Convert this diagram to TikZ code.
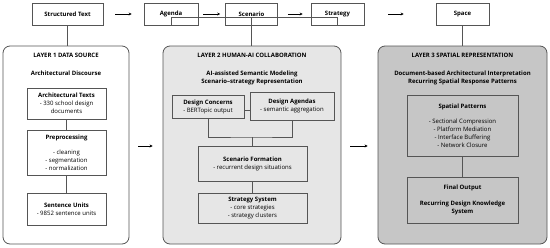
\documentclass[tikz,border=0pt]{standalone}
\usepackage{fontspec}
\setmainfont{Open Sans}
\usetikzlibrary{arrows.meta}
\definecolor{linec}{HTML}{555555}
\definecolor{fillb}{HTML}{E6E6E6}
\definecolor{fillc}{HTML}{C6C6C6}
\newcommand\fsz{\fontsize{6}{8}\selectfont}
\tikzset{
  box/.style={draw=linec, line width=0.6pt, inner sep=0pt, align=center, font=\fsz, text=black},
  layerbox/.style={draw=linec, line width=0.8pt, rounded corners=7pt},
  link/.style={draw=linec, line width=0.6pt},
  flow/.style={draw=black, line width=0.5pt, -{Stealth[length=3pt,width=3pt]}},
  ttl/.style={font=\fsz\bfseries, align=center, inner sep=0pt},
}
\begin{document}
\begin{tikzpicture}[x=1pt,y=-1pt]
\useasboundingbox (0,0) rectangle (550,247);
% layers
\node[layerbox, fill=white, minimum width=126pt, minimum height=198pt] (L1) at (66,145) {};
\node[layerbox, fill=fillb, minimum width=178pt, minimum height=198pt] (L2) at (252,145) {};
\node[layerbox, fill=fillc, minimum width=169pt, minimum height=198pt] (L3) at (462.5,145) {};
% top row
\node[box, minimum width=71pt, minimum height=22pt, font=\fsz\bfseries] (st) at (67.5,14) {Structured Text};
\node[box, minimum width=54pt, minimum height=22pt, font=\fsz\bfseries] (ag) at (171,14) {Agenda};
\node[box, minimum width=52pt, minimum height=22pt, font=\fsz\bfseries] (sc) at (251.5,14) {Scenario};
\node[box, minimum width=53pt, minimum height=22pt, font=\fsz\bfseries] (sy) at (337.5,14) {Strategy};
\node[box, minimum width=53pt, minimum height=22pt, font=\fsz\bfseries] (sp) at (462.5,14) {Space};
\draw[flow] ([xshift=12pt]st.east) -- ([xshift=-12pt]ag.west);
\draw[flow] ([xshift=5pt]ag.east) -- ([xshift=-5pt]sc.west);
\draw[flow] ([xshift=10pt]sc.east) -- ([xshift=-8pt]sy.west);
\draw[flow] ([xshift=24pt]sy.east) -- ([xshift=-32pt]sp.west);
\coordinate (agd) at ([yshift=8pt]ag.south);
\draw[link] (ag.south) -- (agd) -| (sy.south);
\draw[link] (st.south) -- (st.south |- L1.north);
\draw[link] (sc.south |- agd) -- (sc.south |- L2.north);
\draw[link] (sp.south) -- (sp.south |- L3.north);
% layer arrows
\draw[flow] ([xshift=9pt,yshift=-1pt]L1.east) -- ([xshift=-10pt,yshift=-1pt]L2.west);
\draw[flow] ([xshift=9pt,yshift=-1pt]L2.east) -- ([xshift=-10pt,yshift=-1pt]L3.west);
% layer 1
\node[ttl] (t1) at (66,55) {LAYER 1 DATA SOURCE};
\node[ttl] (t1b) at (66,73) {Architectural Discourse};
\node[box, minimum width=79pt, minimum height=31pt] (at) at (66.5,103.5) {\textbf{Architectural Texts}\\- 330 school design\\documents};
\node[box, minimum width=79pt, minimum height=45pt] (pp) at (66.5,152.5) {\textbf{Preprocessing}\\[7pt]- cleaning\\- segmentation\\- normalization};
\node[box, minimum width=79pt, minimum height=32pt] (su) at (66.5,209) {\textbf{Sentence Units}\\- 9852 sentence units};
\draw[link] (at) -- (pp);
\draw[link] (pp) -- (su);
% layer 2
\node[ttl] (t2) at (252,55) {LAYER 2 HUMAN-AI COLLABORATION};
\node[ttl] (t2b) at (252,77.5) {AI-assisted Semantic Modeling\\Scenario–strategy Representation};
\node[box, fill=fillb, minimum width=72pt, minimum height=23pt] (dc) at (208,106.5) {\textbf{Design Concerns}\\- BERTopic output};
\node[box, fill=fillb, minimum width=84pt, minimum height=28pt] (da) at (292,106) {\textbf{Design Agendas}\\- semantic aggregation};
\node[box, fill=fillb, minimum width=109pt, minimum height=35pt] (sf) at (252.5,163.5) {\textbf{Scenario Formation}\\- recurrent design situations};
\node[box, fill=fillb, minimum width=109pt, minimum height=30pt] (ss) at (252.5,208) {\textbf{Strategy System}\\- core strategies\\- strategy clusters};
\draw[link] (dc.east |- 0,110) -- (da.west |- 0,110);
\coordinate (brk) at (252.5,137);
\draw[link] (dc.south) |- (brk) -| (da.south);
\draw[link] (brk) -- (sf.north);
\draw[link] (sf) -- (ss);
% layer 3
\node[ttl] (t3) at (462.5,55) {LAYER 3 SPATIAL REPRESENTATION};
\node[ttl] (t3b) at (462.5,77.5) {Document-based Architectural Interpretation\\Recurring Spatial Response Patterns};
\node[box, fill=fillc, minimum width=111pt, minimum height=61pt] (spp) at (462.5,125.5) {\textbf{Spatial Patterns}\\[7pt]- Sectional Compression\\- Platform Mediation\\- Interface Buffering\\- Network Closure};
\node[box, fill=fillc, minimum width=111pt, minimum height=46pt] (fo) at (462.5,200) {\textbf{Final Output}\\[8pt]\textbf{Recurring Design Knowledge}\\\textbf{System}};
\draw[link] (spp) -- (fo);
\end{tikzpicture}
\end{document}
